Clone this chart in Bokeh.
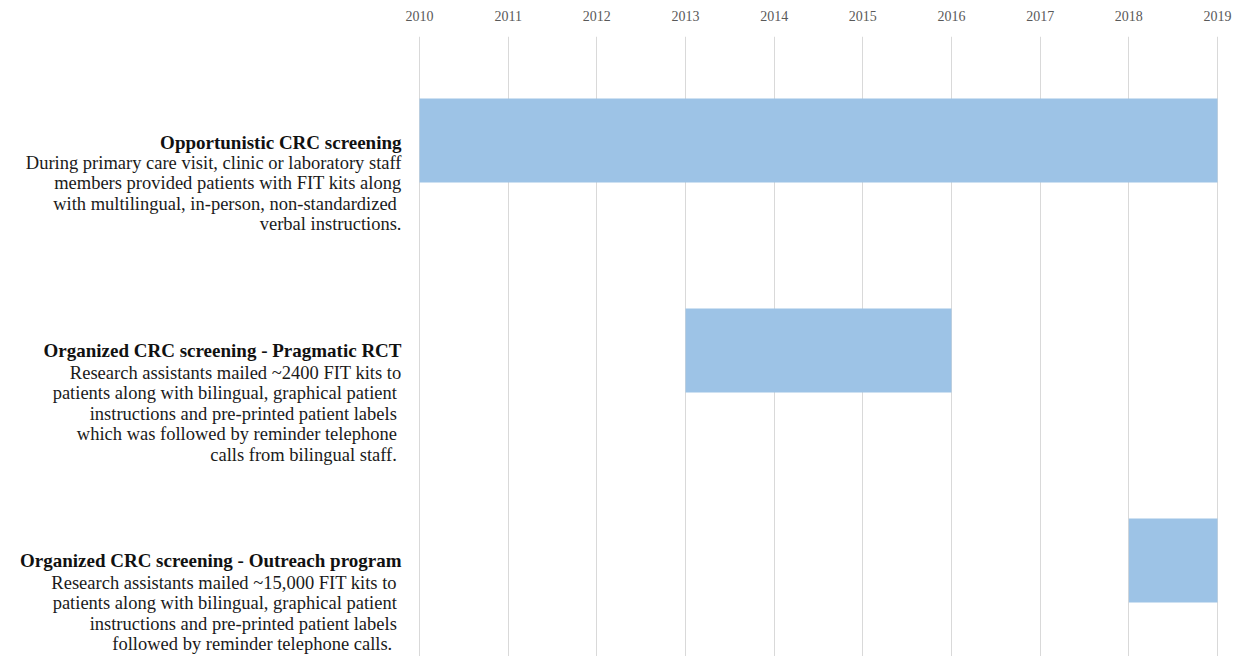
from bokeh.plotting import figure
from bokeh.models import Range1d, FixedTicker, Label, ColumnDataSource
from bokeh.embed import file_html
from bokeh.resources import INLINE

# ---- data ----
years = [2010, 2011, 2012, 2013, 2014, 2015, 2016, 2017, 2018, 2019]
titles = [
    "Opportunistic CRC screening",
    "Organized CRC screening - Pragmatic RCT",
    "Organized CRC screening - Outreach program",
]
descriptions = [
    "During primary care visit, clinic or laboratory staff\nmembers provided patients with FIT kits along\nwith multilingual,  in-person, non-standardized\nverbal instructions.",
    "Research assistants mailed ~2400 FIT kits to\npatients along with bilingual,  graphical patient\ninstructions  and pre-printed patient labels\nwhich was followed  by reminder telephone\ncalls from bilingual  staff.",
    "Research assistants mailed ~15,000  FIT kits to\npatients along with bilingual,  graphical patient\ninstructions  and pre-printed patient labels\nfollowed  by reminder telephone  calls.",
]
start_years = [2010, 2013, 2018]
end_years = [2019, 2016, 2019]
rows = [0, 1, 2]

BAR = "#9dc3e6"
SERIF = "Liberation Serif"

W, H = 1237, 656
px_per_year = (1217 - 419) / 9.0
x0 = 2010 - 419 / px_per_year
x1 = 2019 + (W - 1217) / px_per_year

p = figure(width=W, height=H, output_backend="svg", toolbar_location=None,
           x_range=Range1d(x0, x1), y_range=Range1d(2.457, -0.495),
           x_axis_location="above", y_axis_location=None,
           min_border_left=0, min_border_right=0, min_border_top=36,
           min_border_bottom=0)
p.outline_line_color = None
p.background_fill_color = "white"
p.border_fill_color = "white"

src = ColumnDataSource(dict(left=start_years, right=end_years, y=rows))
p.hbar(y="y", left="left", right="right", height=0.4, source=src,
       fill_color=BAR, line_color=None)

ax = p.xaxis[0]
ax.ticker = FixedTicker(ticks=years)
ax.axis_line_color = None
ax.major_tick_line_color = None
ax.minor_tick_line_color = None
ax.major_label_text_font = SERIF
ax.major_label_text_font_size = "14px"
ax.major_label_text_color = "#595959"
ax.major_label_standoff = 10

p.xgrid.grid_line_color = "#d9d9d9"
p.xgrid.grid_line_width = 1
p.ygrid.visible = False

x_text = 2010 - 18 / px_per_year

for r, t, d in zip(rows, titles, descriptions):
    p.add_layout(Label(x=x_text, y=r, text=t, text_align="right",
                       text_baseline="middle", y_offset=-2 if r == 0 else 0,
                       text_font=SERIF, text_font_size="19px",
                       text_font_style="bold", text_color="#111111"))
    p.add_layout(Label(x=x_text, y=r, text=d, text_align="right",
                       text_baseline="top", y_offset=-12.5,
                       text_font=SERIF, text_font_size="18.5px",
                       text_line_height=1.02, text_color="#1a1a1a"))

open("out.html", "w").write(file_html(p, INLINE))
